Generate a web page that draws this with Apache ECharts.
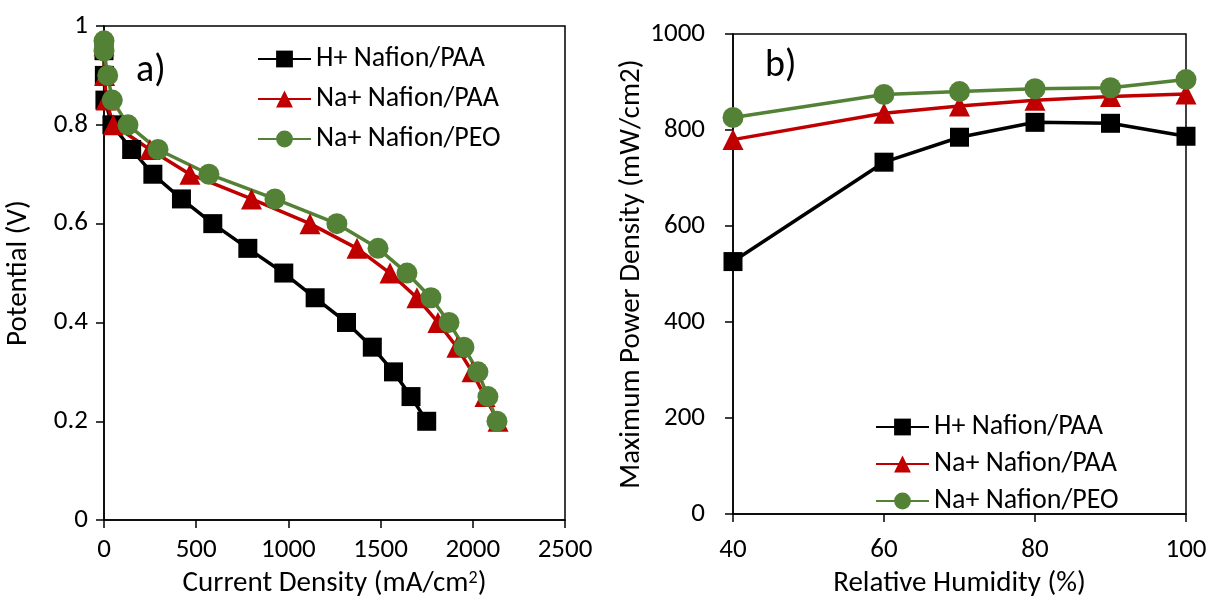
<!DOCTYPE html>
<html>
<head>
<meta charset="utf-8">
<script src="https://cdn.jsdelivr.net/npm/echarts@6/dist/echarts.min.js"></script>
<style>
  html, body { margin: 0; padding: 0; background: #fff; }
  #chart { width: 1211px; height: 603px; }
</style>
</head>
<body>
<div id="chart"></div>
<script>
// a) polarisation curves
var hCurrent     = [0, 2, 5, 43, 150, 265, 420, 590, 780, 975, 1145, 1315, 1455, 1570, 1665, 1750]
var hPotential   = [0.95, 0.9, 0.85, 0.8, 0.75, 0.7, 0.65, 0.6, 0.55, 0.5, 0.45, 0.4, 0.35, 0.3, 0.25, 0.2]
var paaCurrent   = [0, 3, 12, 50, 249, 466, 800, 1117, 1372, 1551, 1697, 1811, 1914, 1996, 2066, 2137]
var paaPotential = [0.96, 0.9, 0.85, 0.8, 0.75, 0.7, 0.65, 0.6, 0.55, 0.5, 0.45, 0.4, 0.35, 0.3, 0.25, 0.2]
var peoCurrent   = [0, 0, 20, 45, 130, 293, 569, 927, 1263, 1486, 1643, 1773, 1871, 1952, 2028, 2082, 2131]
var peoPotential = [0.97, 0.95, 0.9, 0.85, 0.8, 0.75, 0.7, 0.65, 0.6, 0.55, 0.5, 0.45, 0.4, 0.35, 0.3, 0.25, 0.2]

// b) max power density vs RH
var humidity  = [40, 60, 70, 80, 90, 100]
var hPower    = [526, 733, 785, 816, 814, 787]
var paaPower  = [780, 835, 850, 862, 870, 875]
var peoPower  = [826, 874, 880, 886, 888, 905]

var names = ['H+ Nafion/PAA', 'Na+ Nafion/PAA', 'Na+ Nafion/PEO']
var colors = ['#000000', '#C00000', '#538135']
var symbols = ['rect', 'triangle', 'circle']
var sizes = [19, 21, 21]

var FONT = 'Carlito, Lato, sans-serif'

function pairs(xs, ys) {
  return xs.map(function (x, i) { return [x, ys[i]] })
}

function series(i, gridIdx, data) {
  return {
    name: names[i],
    type: 'line',
    xAxisIndex: gridIdx,
    yAxisIndex: gridIdx,
    data: data,
    symbol: symbols[i],
    symbolSize: sizes[i],
    clip: false,
    animation: false,
    itemStyle: { color: colors[i] },
    lineStyle: { color: colors[i], width: 3.5 }
  }
}

function axisBase() {
  return {
    type: 'value',
    axisLine: { show: true, lineStyle: { color: '#000', width: 1.5 } },
    axisTick: { show: true, inside: false, length: 8, lineStyle: { color: '#000', width: 1.5 } },
    splitLine: { show: false },
    axisLabel: {
      color: '#000', fontFamily: FONT, fontSize: 27,
      formatter: function (v) { return String(v) } // no thousands separator
    },
    nameTextStyle: { color: '#000', fontFamily: FONT, fontSize: 29 }
  }
}

var chart = echarts.init(document.getElementById('chart'))

var xa0 = axisBase()
Object.assign(xa0, {
  gridIndex: 0, min: 0, max: 2500, interval: 500,
  name: 'Current Density (mA/cm{sup|2})', nameLocation: 'middle', nameGap: 43
})
xa0.axisLabel.margin = 17
xa0.nameTextStyle.rich = { sup: { fontFamily: FONT, fontSize: 18, verticalAlign: 'top', padding: [0, 0, 11, 0] } }

var ya0 = axisBase()
Object.assign(ya0, {
  gridIndex: 0, min: 0, max: 1, interval: 0.2,
  name: 'Potential (V)', nameLocation: 'middle', nameGap: 71
})
ya0.axisLabel.margin = 16

var xa1 = axisBase()
Object.assign(xa1, {
  gridIndex: 1, min: 40, max: 100, interval: 20,
  name: 'Relative Humidity (%)', nameLocation: 'middle', nameGap: 52
})
xa1.axisLabel.margin = 23

var ya1 = axisBase()
Object.assign(ya1, {
  gridIndex: 1, min: 0, max: 1000, interval: 200,
  name: 'Maximum Power Density (mW/cm2)', nameLocation: 'middle', nameGap: 84
})
ya1.axisLabel.margin = 28

var legendText = { color: '#000', fontFamily: FONT, fontSize: 28 }

chart.setOption({
  backgroundColor: '#fff',
  animation: false,
  title: [
    { text: 'a)', left: 131, top: 47, textStyle: { fontFamily: FONT, fontSize: 38, fontWeight: 'normal', color: '#000' } },
    { text: 'b)', left: 760, top: 42, textStyle: { fontFamily: FONT, fontSize: 38, fontWeight: 'normal', color: '#000' } }
  ],
  grid: [
    { left: 104, top: 26, width: 461, height: 502, show: true, borderColor: '#000', borderWidth: 1.5, containLabel: false },
    { left: 733, top: 34, width: 453, height: 483, show: true, borderColor: '#000', borderWidth: 1.5, containLabel: false }
  ],
  legend: [
    {
      data: names, orient: 'vertical', left: 252, top: 40,
      itemWidth: 53, itemHeight: 21, itemGap: 12,
      textStyle: legendText
    },
    {
      data: names, orient: 'vertical', left: 870, top: 408,
      itemWidth: 53, itemHeight: 21, itemGap: 9,
      textStyle: legendText
    }
  ],
  xAxis: [xa0, xa1],
  yAxis: [ya0, ya1],
  series: [
    series(0, 0, pairs(hCurrent, hPotential)),
    series(1, 0, pairs(paaCurrent, paaPotential)),
    series(2, 0, pairs(peoCurrent, peoPotential)),
    series(0, 1, pairs(humidity, hPower)),
    series(1, 1, pairs(humidity, paaPower)),
    series(2, 1, pairs(humidity, peoPower))
  ]
})
</script>
</body>
</html>
